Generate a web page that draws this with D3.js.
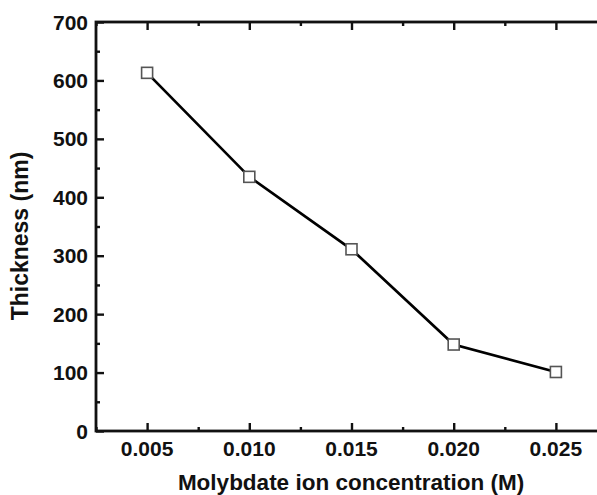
<!DOCTYPE html>
<html>
<head>
<meta charset="utf-8">
<script src="https://cdn.jsdelivr.net/npm/d3@7"></script>
<style>
  body { margin: 0; background: #fff; }
  svg { display: block; }
  text { font-family: "Liberation Sans", Arial, sans-serif; font-weight: bold; fill: #111; }
</style>
</head>
<body>
<svg id="vis"></svg>
<script>
// data
const concentration = [0.005, 0.010, 0.015, 0.020, 0.025];
const thickness = [613, 435, 311, 148, 101];
const xTicks = [0.005, 0.010, 0.015, 0.020, 0.025];
const yTicks = [0, 100, 200, 300, 400, 500, 600, 700];

const width = 597, height = 495;
const svg = d3.select("#vis").attr("width", width).attr("height", height);

let plotLeft = 96, plotRight = 607, plotTop = 22, plotBottom = 431;
let majorLen = 8, minorLen = 4;

const x = d3.scaleLinear().domain([0.0025, 0.0275]).range([plotLeft, plotRight]);
const y = d3.scaleLinear().domain([0, 700]).range([plotBottom, plotTop]);

const xMinor = d3.range(0.0025, 0.0276, 0.005);
const yMinor = d3.range(50, 700, 100);

// axes, ticks pointing inward
svg.append("g").attr("transform", `translate(0,${plotBottom})`)
  .call(d3.axisTop(x).tickValues(xTicks).tickSize(majorLen).tickFormat(""));
svg.append("g").attr("transform", `translate(0,${plotBottom})`)
  .call(d3.axisTop(x).tickValues(xMinor).tickSize(minorLen).tickFormat(""));
svg.append("g").attr("transform", `translate(0,${plotTop})`)
  .call(d3.axisBottom(x).tickValues(xTicks).tickSize(majorLen).tickFormat(""));
svg.append("g").attr("transform", `translate(0,${plotTop})`)
  .call(d3.axisBottom(x).tickValues(xMinor).tickSize(minorLen).tickFormat(""));

svg.append("g").attr("transform", `translate(${plotLeft},0)`)
  .call(d3.axisRight(y).tickValues(yTicks).tickSize(majorLen).tickFormat(""));
svg.append("g").attr("transform", `translate(${plotLeft},0)`)
  .call(d3.axisRight(y).tickValues(yMinor).tickSize(minorLen).tickFormat(""));
svg.append("g").attr("transform", `translate(${plotRight},0)`)
  .call(d3.axisLeft(y).tickValues(yTicks).tickSize(majorLen).tickFormat(""));
svg.append("g").attr("transform", `translate(${plotRight},0)`)
  .call(d3.axisLeft(y).tickValues(yMinor).tickSize(minorLen).tickFormat(""));

svg.selectAll(".domain").remove();
svg.selectAll(".tick line").attr("stroke", "#111").attr("stroke-width", 2.4);

// frame
svg.append("rect")
  .attr("x", plotLeft).attr("y", plotTop)
  .attr("width", plotRight - plotLeft).attr("height", plotBottom - plotTop)
  .attr("fill", "none").attr("stroke", "#111").attr("stroke-width", 2.8);

// tick labels
svg.append("g").selectAll("text").data(xTicks).join("text")
  .attr("x", d => x(d)).attr("y", 456)
  .attr("text-anchor", "middle").attr("font-size", 21)
  .text(d => d3.format(".3f")(d));

svg.append("g").selectAll("text").data(yTicks).join("text")
  .attr("x", 88).attr("y", d => y(d)).attr("dy", "0.36em")
  .attr("text-anchor", "end").attr("font-size", 21)
  .text(d => d);

// axis titles
svg.append("text")
  .attr("x", 351).attr("y", 490)
  .attr("text-anchor", "middle").attr("font-size", 22.5)
  .text("Molybdate ion concentration (M)");

svg.append("text")
  .attr("transform", `translate(28,236) rotate(-90)`)
  .attr("text-anchor", "middle").attr("font-size", 23)
  .text("Thickness (nm)");

// series
const line = d3.line().x((d, i) => x(concentration[i])).y(d => y(d));
svg.append("path").datum(thickness)
  .attr("d", line).attr("fill", "none")
  .attr("stroke", "#000").attr("stroke-width", 2.7);

const s = 11;
svg.append("g").selectAll("rect").data(thickness).join("rect")
  .attr("x", (d, i) => x(concentration[i]) - s / 2)
  .attr("y", d => y(d) - s / 2)
  .attr("width", s).attr("height", s)
  .attr("fill", "#fff").attr("stroke", "#555").attr("stroke-width", 1.6);
</script>
</body>
</html>
